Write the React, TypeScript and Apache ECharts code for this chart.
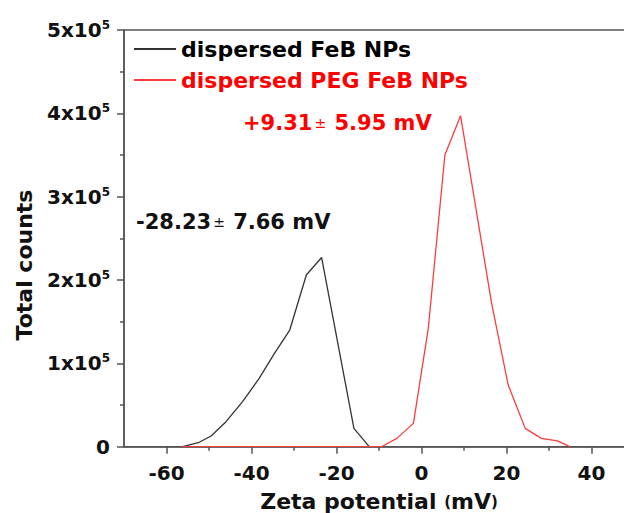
import React, { useEffect, useRef } from 'react';
import * as echarts from 'echarts';

const FONT = '"DejaVu Sans", "Liberation Sans", sans-serif';

const seriesNames = ['dispersed FeB NPs', 'dispersed PEG FeB NPs'];

// dispersed FeB NPs (mV, counts)
const blackX = [-56.2, -52.3, -49.5, -46.0, -42.1, -38.2, -34.6, -31.0, -27.1, -23.5, -15.9, -12.3];
const blackY = [0, 5300, 12800, 30000, 54000, 82000, 112000, 140000, 206000, 227000, 22000, 0];

// dispersed PEG FeB NPs (mV, counts)
const redX = [-56.2, -9.4, -5.8, -1.9, 1.6, 5.5, 9.2, 16.5, 20.4, 24.4, 28.2, 32.0, 34.9];
const redY = [0, 0, 10000, 28000, 142000, 350000, 397000, 172000, 74000, 22000, 10000, 7000, 0];

const xMajorTicks = [-60, -40, -20, 0, 20, 40];
const xMinorTicks = [-50, -30, -10, 10, 30];

const blackNote = ['-28.23', '±', ' 7.66 mV'];
const redNote = ['+9.31', '±', ' 5.95 mV'];

const AXIS_COLOR = '#555';
const BLACK_LINE = '#333333';
const RED_LINE = '#ff3b3b';
const RED_TEXT = '#ff0000';

export default function App() {
  const ref = useRef<HTMLDivElement>(null);

  useEffect(() => {
    if (!ref.current) return;
    const chart = echarts.init(ref.current, null, { renderer: 'svg' });
    const labelStyle = { fontFamily: FONT, fontWeight: 'bold' as const, fontSize: 20, color: '#111' };

    chart.setOption({
      animation: false,
      backgroundColor: '#fff',
      grid: {
        left: 124,
        top: 30,
        width: 510,
        height: 416.7,
        outerBoundsMode: 'none',
        containLabel: false,
        show: true,
        borderColor: AXIS_COLOR,
        borderWidth: 1.5,
        backgroundColor: 'transparent',
      },
      legend: {
        orient: 'vertical',
        left: 133,
        top: 38,
        padding: 0,
        itemWidth: 42,
        itemHeight: 22,
        itemGap: 9,
        itemStyle: { opacity: 0 },
        textStyle: { fontFamily: FONT, fontWeight: 'bold', fontSize: 22, color: '#000' },
        data: [
          { name: seriesNames[0], textStyle: { color: '#000' } },
          { name: seriesNames[1], textStyle: { color: RED_TEXT } },
        ],
      },
      xAxis: [
        {
          type: 'value',
          min: -70,
          max: 50,
          interval: 10,
          position: 'bottom',
          axisLine: { show: true, onZero: false, lineStyle: { color: AXIS_COLOR, width: 1.5 } },
          axisTick: { show: true, customValues: xMajorTicks, length: 7, lineStyle: { color: AXIS_COLOR, width: 1.5 } },
          axisLabel: { customValues: xMajorTicks, margin: 16, ...labelStyle },
          splitLine: { show: false },
          name: '{a|Zeta potential }{p|(}{a|mV}{p|)}',
          nameLocation: 'middle',
          nameGap: 44,
          nameTextStyle: {
            rich: {
              a: { fontFamily: FONT, fontWeight: 'bold', fontSize: 22, lineHeight: 22, color: '#111' },
              p: { fontFamily: FONT, fontWeight: 'bold', fontSize: 15, lineHeight: 22, color: '#111' },
            },
          },
        },
        {
          type: 'value',
          min: -70,
          max: 50,
          interval: 10,
          position: 'bottom',
          axisLine: { show: false },
          axisTick: { show: true, customValues: xMinorTicks, length: 4, lineStyle: { color: AXIS_COLOR, width: 1.5 } },
          axisLabel: { show: false },
          splitLine: { show: false },
        },
      ],
      yAxis: {
        type: 'value',
        min: 0,
        max: 500000,
        interval: 100000,
        axisLine: { show: true, onZero: false, lineStyle: { color: AXIS_COLOR, width: 1.5 } },
        axisTick: { show: true, length: 7, lineStyle: { color: AXIS_COLOR, width: 1.5 } },
        minorTick: { show: true, splitNumber: 2, length: 4, lineStyle: { color: AXIS_COLOR, width: 1.5 } },
        minorSplitLine: { show: false },
        splitLine: { show: false },
        axisLabel: {
          margin: 14,
          formatter: (v: number) => (v === 0 ? '{b|0}' : `{b|${Math.round(v / 100000)}x10}{s|5}`),
          rich: {
            b: { ...labelStyle, lineHeight: 22 },
            s: { fontFamily: FONT, fontWeight: 'bold', fontSize: 12, color: '#111', lineHeight: 12, verticalAlign: 'top' },
          },
        },
      },
      graphic: [
        {
          type: 'text',
          x: 24,
          y: 265,
          rotation: Math.PI / 2,
          style: {
            text: 'Total counts',
            fontFamily: FONT,
            fontWeight: 'bold',
            fontSize: 22,
            fill: '#111',
            align: 'center',
            verticalAlign: 'middle',
          },
        },
        {
          type: 'text',
          x: 136,
          y: 222,
          style: {
            text: `{a|${blackNote[0]}}{p|${blackNote[1]}}{a|${blackNote[2]}}`,
            verticalAlign: 'middle',
            rich: {
              a: { fontFamily: FONT, fontWeight: 'bold', fontSize: 21, fill: '#111' },
              p: { fontFamily: FONT, fontWeight: 'normal', fontSize: 14, fill: '#111', padding: [0, 1, 0, 2] },
            },
          },
        },
        {
          type: 'text',
          x: 243,
          y: 123,
          style: {
            text: `{a|${redNote[0]}}{p|${redNote[1]}}{a|${redNote[2]}}`,
            verticalAlign: 'middle',
            rich: {
              a: { fontFamily: FONT, fontWeight: 'bold', fontSize: 21, fill: RED_TEXT },
              p: { fontFamily: FONT, fontWeight: 'normal', fontSize: 14, fill: RED_TEXT, padding: [0, 1, 0, 2] },
            },
          },
        },
      ],
      series: [
        {
          name: seriesNames[0],
          type: 'line',
          xAxisIndex: 0,
          symbol: 'none',
          data: blackX.map((x, i) => [x, blackY[i]]),
          lineStyle: { color: BLACK_LINE, width: 1.3 },
          itemStyle: { color: BLACK_LINE },
        },
        {
          name: seriesNames[1],
          type: 'line',
          xAxisIndex: 0,
          symbol: 'none',
          data: redX.map((x, i) => [x, redY[i]]),
          lineStyle: { color: RED_LINE, width: 1.3 },
          itemStyle: { color: RED_LINE },
        },
      ],
    });
    return () => chart.dispose();
  }, []);

  return (
    <div
      ref={ref}
      style={{ position: 'absolute', left: 0, top: 0, width: 624, height: 513, background: '#fff' }}
    />
  );
}
